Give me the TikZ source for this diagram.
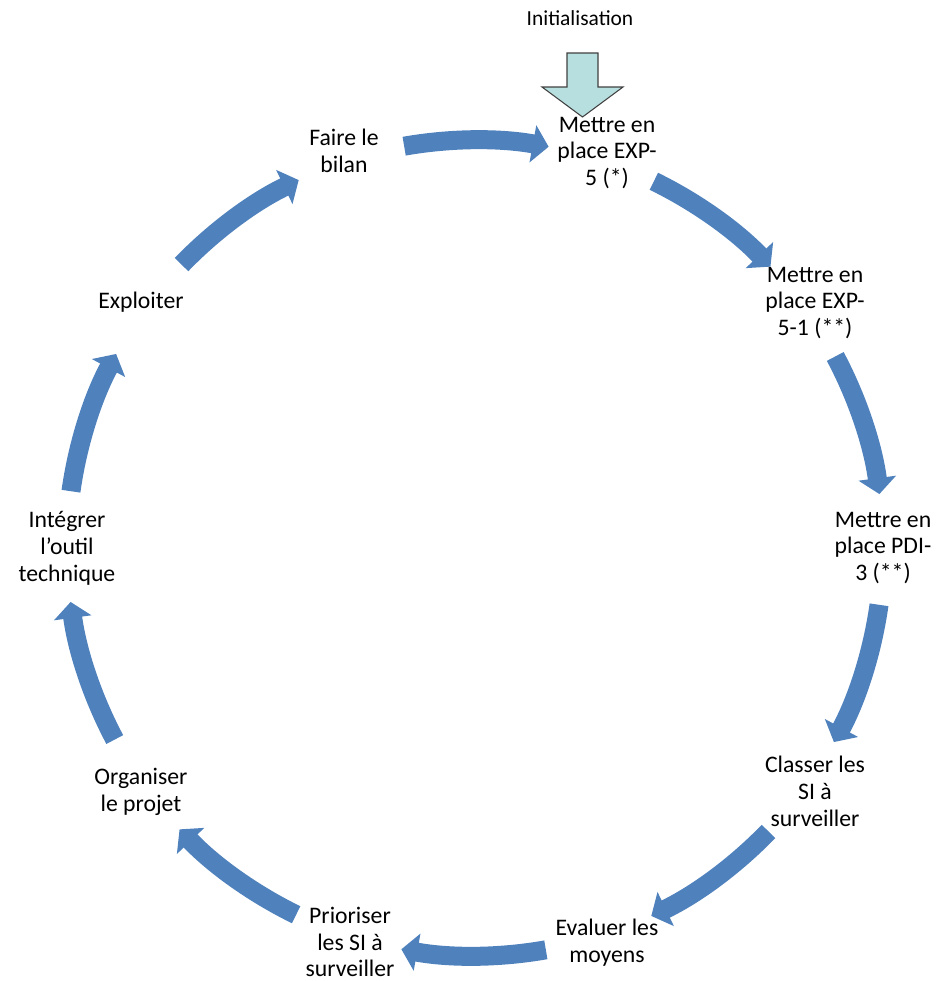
\documentclass[tikz,border=0pt]{standalone}
\usepackage{fontspec}
\setmainfont{Carlito}
\usepackage{tikz}
\usetikzlibrary{arrows.meta}

\definecolor{cycblue}{RGB}{79,129,189}
\definecolor{initcyan}{RGB}{184,223,224}

\begin{document}
\begin{tikzpicture}[
    stage/.style={align=center, inner sep=0pt, font=\fontsize{13.5}{15.3}\selectfont},
    cyclearrow/.style={draw=cycblue, line width=0.38cm,
      -{Triangle[width=0.74cm,length=0.32cm]}}
  ]
     \useasboundingbox (0,0) rectangle (18.96,-19.62);
     \coordinate (C) at (9.5,-10.96);

      % stages of the cycle
      \node[stage] (bilan) at (6.88,-3.02) {Faire le\\bilan};
      \node[stage] (expv) at (12.14,-3.06) {Mettre en\\place EXP-\\5 (*)};
      \node[stage] (expvi) at (16.3,-6.06) {Mettre en\\place EXP-\\5-1 (**)};
      \node[stage] (pdi) at (17.66,-10.96) {Mettre en\\place PDI-\\3 (**)};
      \node[stage] (classer) at (16.3,-15.82) {Classer les\\SI à\\surveiller};
      \node[stage] (evaluer) at (12.14,-18.86) {Evaluer les\\moyens};
      \node[stage] (prioriser) at (7.0,-18.84) {Prioriser\\les SI à\\surveiller};
      \node[stage] (organiser) at (2.82,-15.84) {Organiser\\le projet};
      \node[stage] (integrer) at (1.34,-10.96) {Intégrer\\l’outil\\technique};
      \node[stage] (exploiter) at (2.82,-6.04) {Exploiter};

      % curved arrows
      \foreach \a [count=\i] in {90,54,18,-18,-54,-90,-126,-162,-198,-234} {
        \coordinate (s\i) at ([shift={(\a+10:8.16)}]C);
        \draw[cyclearrow] (s\i) arc[start angle=\a+10, delta angle=-20.4, radius=8.16];
      }

      % Draw initialisation
      \node[font=\fontsize{12.2}{14}\selectfont] (init) at (11.6,-0.36) {Initialisation};
      \draw[fill=initcyan, draw=black!75, line width=0.6pt]
        (11.34,-1.06) -- (11.96,-1.06) -- (11.96,-1.74) -- (12.46,-1.74)
        -- (11.65,-2.34) -- (10.84,-1.74) -- (11.34,-1.74) -- cycle;
\end{tikzpicture}
\end{document}
